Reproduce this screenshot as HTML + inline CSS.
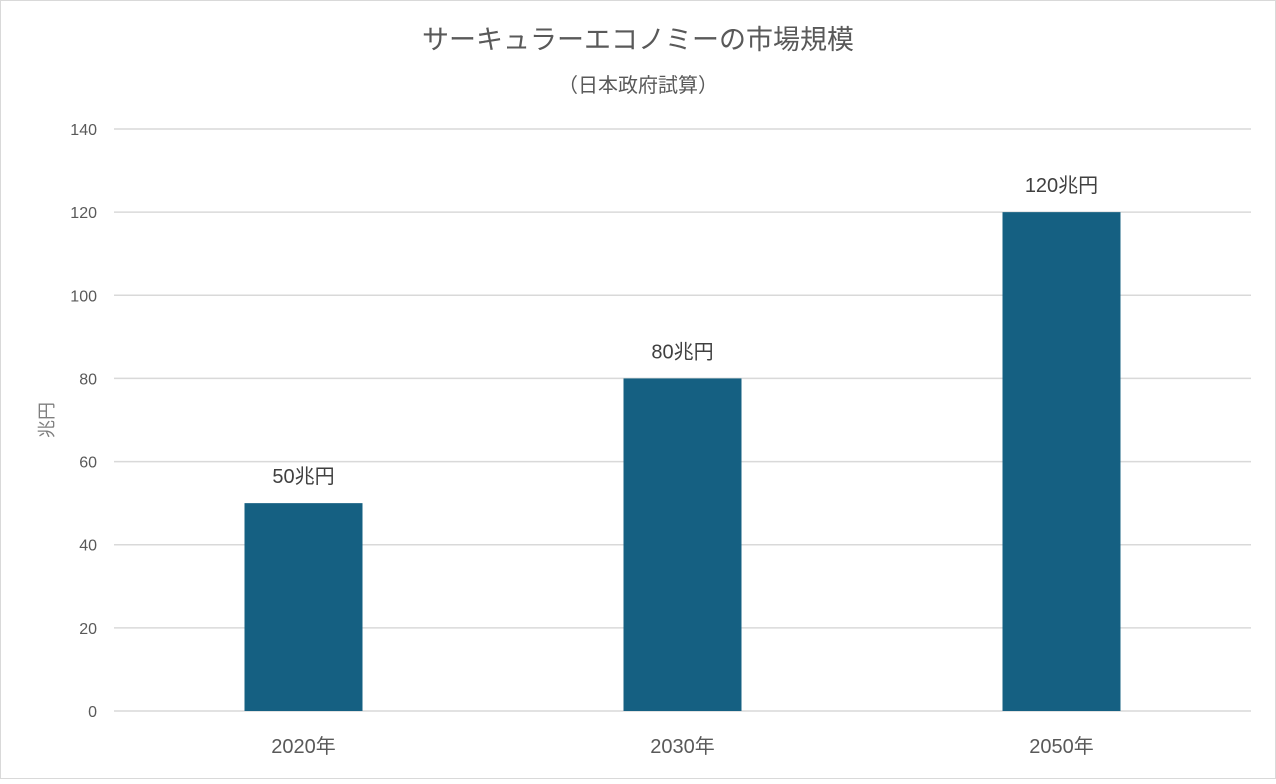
<!DOCTYPE html>
<html><head><meta charset="utf-8">
<style>
html,body{margin:0;padding:0;background:#fff;}
body{width:1276px;height:779px;overflow:hidden;font-family:"Liberation Sans","Noto Sans CJK JP",sans-serif;}
svg text{font-family:"Liberation Sans","Noto Sans CJK JP",sans-serif;}
</style></head>
<body>
<svg id="chart" width="1276" height="779" xmlns="http://www.w3.org/2000/svg">
<rect x="0.5" y="0.5" width="1275" height="778" fill="#fff" stroke="#d9d9d9"/>
<text x="638" y="49" text-anchor="middle" font-size="27" fill="#595959">サーキュラーエコノミーの市場規模</text>
<text x="638" y="92" text-anchor="middle" font-size="20" fill="#595959">（日本政府試算）</text>
<text transform="translate(53,420) rotate(-90)" text-anchor="middle" font-size="18" fill="#7f7f7f">兆円</text>
<g id="grid"></g><g id="bars"></g><g id="labels"></g>
</svg>
<script>
const categories = ["2020年","2030年","2050年"];
const values = [50,80,120];
const valueLabels = ["50兆円","80兆円","120兆円"];
const yTicks = [0,20,40,60,80,100,120,140];

const x0=114,x1=1251,yTop=129,yBot=711,yMax=140,barW=118;
const ns="http://www.w3.org/2000/svg";
function y(v){return yBot-(v/yMax)*(yBot-yTop);}
function xc(i){const bw=(x1-x0)/categories.length;return x0+bw*(i+0.5);}
function mk(tag,attrs,parent,txt){const e=document.createElementNS(ns,tag);for(const k in attrs)e.setAttribute(k,attrs[k]);if(txt!==undefined)e.textContent=txt;parent.appendChild(e);return e;}
const grid=document.getElementById('grid'),bars=document.getElementById('bars'),labels=document.getElementById('labels');
yTicks.forEach(t=>{
  const l=mk('line',{x1:x0,x2:x1,y1:y(t),y2:y(t),stroke:'#d9d9d9','stroke-width':1.5},grid);
  
  
  const tx=mk('text',{x:97,y:y(t)+6,'text-anchor':'end','font-size':16,fill:'#595959'},grid,String(t));
  
  
});
categories.forEach((c,i)=>{
  const r=mk('rect',{x:xc(i)-barW/2,y:y(values[i]),width:barW,height:yBot-y(values[i]),fill:'#156082'},bars);
  
  
  const vl=mk('text',{x:xc(i),y:y(values[i])-20,'text-anchor':'middle','font-size':20,fill:'#404040'},labels,valueLabels[i]);
  
  
  const cl=mk('text',{x:xc(i),y:753,'text-anchor':'middle','font-size':20,fill:'#595959'},labels,c);
  
  
});
</script>
</body></html>
